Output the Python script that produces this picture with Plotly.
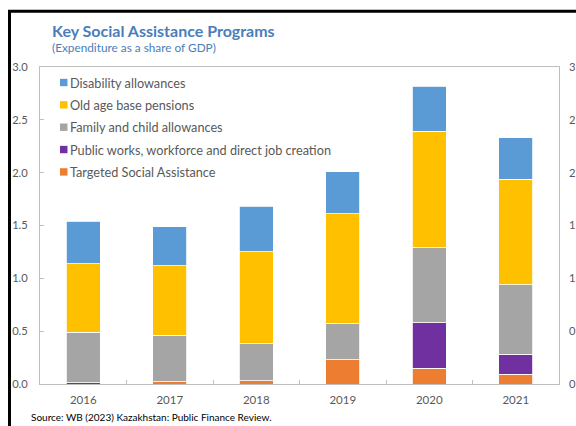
import plotly.graph_objects as go

# Expenditure as a share of GDP (%), by programme
years = ["2016", "2017", "2018", "2019", "2020", "2021"]
targeted_social_assistance = [0.00, 0.02, 0.03, 0.23, 0.15, 0.09]
public_works = [0.01, 0.00, 0.00, 0.00, 0.43, 0.19]
family_child = [0.48, 0.44, 0.35, 0.34, 0.71, 0.66]
old_age_pensions = [0.65, 0.66, 0.87, 1.04, 1.10, 1.00]
disability = [0.40, 0.37, 0.43, 0.40, 0.43, 0.39]

# stacking order, bottom to top
series = [
    ("Targeted Social Assistance", targeted_social_assistance, "#ED7D31"),
    ("Public works, workforce and direct job creation", public_works, "#7030A0"),
    ("Family and child allowances", family_child, "#A5A5A5"),
    ("Old age base pensions", old_age_pensions, "#FFC000"),
    ("Disability allowances", disability, "#5B9BD5"),
]

y_ticks = [0.0, 0.5, 1.0, 1.5, 2.0, 2.5, 3.0]

FONT = "Lato"
TEXT_GREY = "#595959"
AXIS_GREY = "#BFBFBF"
TITLE_BLUE = "#4A7EBB"

W, H = 576, 426
ML, MR, MT, MB = 40, 17, 67, 42
PW, PH = W - ML - MR, H - MT - MB


def px_x(px):
    return (px - ML) / PW


def px_y(py):
    return (H - MB - py) / PH


fig = go.Figure()
for name, values, color in series:
    fig.add_trace(go.Bar(
        x=years, y=values, name=name,
        marker=dict(color=color, line=dict(color="white", width=0.8)),
        showlegend=False,
    ))

# empty trace so the mirrored value axis is drawn on the right
fig.add_trace(go.Scatter(x=[], y=[], yaxis="y2", showlegend=False, hoverinfo="skip"))

# legend: top series first
shapes = []
annotations = []
legend_top = 82.5
legend_step = 22.35
for i, (name, values, color) in enumerate(reversed(series)):
    cy = legend_top + i * legend_step
    shapes.append(dict(
        type="rect", xref="paper", yref="paper",
        x0=px_x(60), x1=px_x(67.5), y0=px_y(cy + 3.7), y1=px_y(cy - 3.7),
        fillcolor=color, line=dict(width=0),
    ))
    annotations.append(dict(
        text=name, xref="paper", yref="paper",
        x=px_x(67.5), y=px_y(cy), xanchor="left", yanchor="middle",
        showarrow=False, font=dict(family=FONT, size=12.7, color=TEXT_GREY),
    ))

# outer frame
shapes.append(dict(
    type="rect", xref="paper", yref="paper",
    x0=px_x(9.5), x1=px_x(640), y0=px_y(480), y1=px_y(11.3),
    line=dict(color="black", width=3), fillcolor="rgba(0,0,0,0)",
))

annotations += [
    dict(text="<b>Key Social Assistance Programs</b>", xref="paper", yref="paper",
         x=px_x(50), y=px_y(30), xanchor="left", yanchor="middle", showarrow=False,
         font=dict(family=FONT, size=16, color=TITLE_BLUE)),
    dict(text="(Expenditure as a share of GDP)", xref="paper", yref="paper",
         x=px_x(50), y=px_y(47.5), xanchor="left", yanchor="middle", showarrow=False,
         font=dict(family=FONT, size=11.8, color=TITLE_BLUE)),
    dict(text="Source: WB (2023) Kazakhstan: Public Finance Review.", xref="paper", yref="paper",
         x=px_x(28.5), y=px_y(417), xanchor="left", yanchor="middle", showarrow=False,
         font=dict(family=FONT, size=10, color="black")),
]

value_axis = dict(
    range=[0, 3], tickvals=y_ticks, tickformat=".1f",
    showgrid=False, zeroline=False, fixedrange=True, automargin=False,
    tickfont=dict(family=FONT, size=11.2, color=TEXT_GREY),
)

fig.update_layout(
    width=W, height=H,
    margin=dict(l=ML, r=MR, t=MT, b=MB, pad=0, autoexpand=False),
    paper_bgcolor="white", plot_bgcolor="white",
    barmode="stack", bargap=0.605,
    showlegend=False,
    font=dict(family=FONT, color=TEXT_GREY),
    xaxis=dict(
        type="category", range=[-0.5, 5.5], automargin=False,
        showline=True, linecolor=AXIS_GREY, linewidth=1, mirror=True,
        ticks="inside", tickson="boundaries", ticklen=4, tickcolor=AXIS_GREY,
        showgrid=False, tickfont=dict(family=FONT, size=11.5, color=TEXT_GREY),
        ticklabelstandoff=5,
    ),
    yaxis=dict(
        **value_axis,
        showline=True, linecolor=AXIS_GREY, linewidth=1, mirror=True,
        ticks="inside", ticklen=4, tickcolor=AXIS_GREY,
        ticklabelstandoff=9,
    ),
    yaxis2=dict(
        **value_axis,
        overlaying="y", side="right", showline=False, ticks="",
        ticklabelstandoff=9,
    ),
    shapes=shapes,
    annotations=annotations,
)

fig.write_html("out.html")
